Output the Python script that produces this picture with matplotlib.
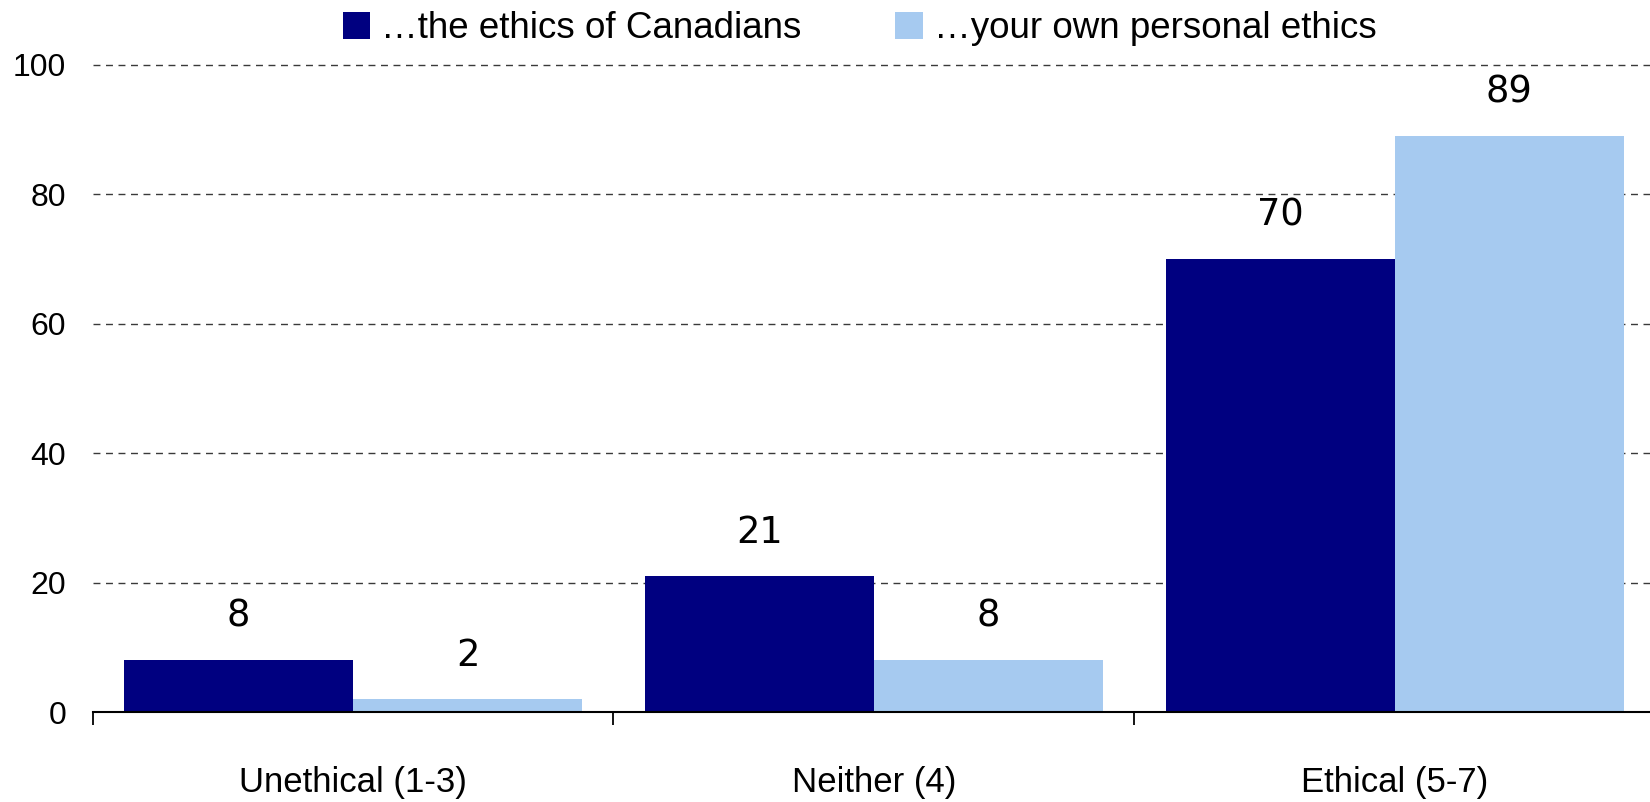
import numpy as np
import matplotlib
matplotlib.use("Agg")
import matplotlib.pyplot as plt

plt.rcParams['font.family'] = ['Liberation Sans', 'DejaVu Sans']

# Data
categories = ["Unethical (1-3)", "Neither (4)", "Ethical (5-7)"]
series_names = ["\u2026the ethics of Canadians", "\u2026your own personal ethics"]
canadians = [8, 21, 70]
personal = [2, 8, 89]
yticks = [0, 20, 40, 60, 80, 100]

colors = ["#000080", "#A6CAF0"]

fig = plt.figure(figsize=(16.5, 8.02), dpi=100)
ax = fig.add_axes([0.0561, 0.1122, 0.9439, 0.8068])

x = np.arange(len(categories))
w = 0.44
b1 = ax.bar(x - w / 2, canadians, width=w, color=colors[0], label=series_names[0], zorder=3)
b2 = ax.bar(x + w / 2, personal, width=w, color=colors[1], label=series_names[1], zorder=3)

# value labels
for bars, vals in [(b1, canadians), (b2, personal)]:
    for rect, v in zip(bars, vals):
        ax.annotate(str(v), (rect.get_x() + rect.get_width() / 2, v),
                    xytext=(0, 24), textcoords="offset points",
                    ha="center", va="baseline", fontsize=26.5, family="DejaVu Sans")

ax.set_xlim(-0.5, 2.49)
ax.set_ylim(0, 100)
ax.set_yticks(yticks)
ax.set_yticklabels([str(t) for t in yticks], fontsize=23)
ax.tick_params(axis="y", length=0, pad=19)

# dashed gridlines, none at zero
for t in yticks[1:]:
    ax.axhline(t, color="#3a3a3a", lw=1.0, ls=(0, (5, 4)), zorder=1, clip_on=False)

# ticks at category boundaries, labels centred
ax.set_xticks([-0.5, 0.5, 1.5])
ax.set_xticklabels([])
ax.set_xticks(x, minor=True)
ax.set_xticklabels(categories, minor=True, fontsize=25)
ax.tick_params(axis="x", which="major", length=9, width=1.3, direction="out", color="black")
ax.tick_params(axis="x", which="minor", length=0, pad=39)

for s in ["top", "right", "left"]:
    ax.spines[s].set_visible(False)
ax.spines["bottom"].set_linewidth(1.5)
ax.spines["bottom"].set_zorder(4)

fig.legend(loc="upper center", bbox_to_anchor=(0.521, 1.027), ncol=2, frameon=False,
           fontsize=26.5, handlelength=0.75, handleheight=0.75, handletextpad=0.3,
           columnspacing=2.55)

fig.savefig("out.png", dpi=100)
